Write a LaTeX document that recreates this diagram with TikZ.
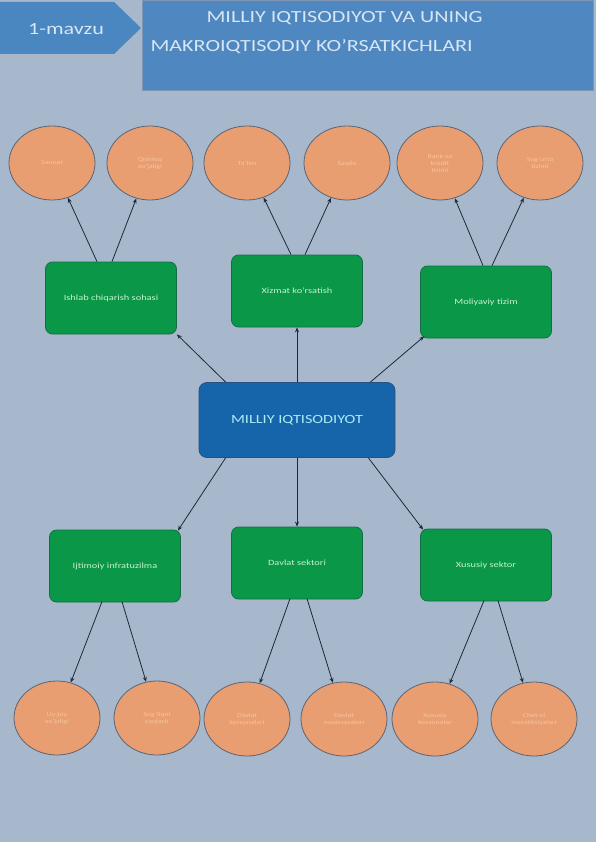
\documentclass[tikz,border=0pt]{standalone}
\usepackage{fontspec}
\setmainfont{Carlito}[FakeStretch=1.3]
\usetikzlibrary{shapes.geometric,calc,arrows.meta}
\definecolor{bgc}{RGB}{168,184,204}
\definecolor{titlec}{RGB}{79,135,192}
\definecolor{tagc}{RGB}{74,134,192}
\definecolor{greenc}{RGB}{10,152,72}
\definecolor{greenb}{RGB}{20,110,70}
\definecolor{bluec}{RGB}{22,100,170}
\definecolor{blueb}{RGB}{40,80,130}
\definecolor{orangec}{RGB}{232,158,112}
\definecolor{orangeb}{RGB}{90,100,120}
\definecolor{ltxt}{RGB}{214,230,244}
\definecolor{gtxt}{RGB}{200,240,210}
\definecolor{otxt}{RGB}{246,196,160}
\definecolor{linec}{RGB}{30,40,55}
\tikzset{
  gbox/.style={draw=greenb, line width=0.8pt, fill=greenc, rounded corners=7pt,
    minimum width=131pt, minimum height=72pt, inner sep=2pt, font=\fontsize{8}{9}\selectfont, text=gtxt, align=center},
  obub/.style={ellipse, draw=orangeb, line width=0.8pt, fill=orangec,
    minimum width=86pt, minimum height=74pt, inner sep=0pt, font=\fontsize{6}{7}\selectfont, text=otxt, align=center},
  conn/.style={draw=linec, line width=0.8pt, -{Stealth[length=5pt,width=4pt]}}
}
\begin{document}
\begin{tikzpicture}[x=1pt,y=-1pt]
\useasboundingbox (0,0) rectangle (596,842);
\fill[bgc] (0,0) rectangle (596,842);
% title
\node[draw=blueb!60, line width=0.6pt, fill=titlec, minimum width=451pt, minimum height=90pt, anchor=north west, inner sep=0pt] (title) at (142,0) {};
\node[text=ltxt, font=\fontsize{17}{19}\selectfont, anchor=west] (t1) at (203,18) {MILLIY IQTISODIYOT VA UNING};
\node[text=ltxt, font=\fontsize{17}{19}\selectfont, anchor=west] (t2) at (147,47) {MAKROIQTISODIY KO’RSATKICHLARI};
\fill[tagc] (0,2) -- (114,2) -- (141,28) -- (114,54) -- (0,54) -- cycle;
\node[text=ltxt, font=\fontsize{17}{19}\selectfont] (tag) at (66,29) {1-mavzu};
% center
\node[draw=blueb, line width=0.8pt, fill=bluec, rounded corners=8pt, minimum width=196pt, minimum height=75pt, text=ltxt!80!cyan, font=\fontsize{12.5}{14}\selectfont] (m) at (297,420) {MILLIY IQTISODIYOT};
% green boxes
\node[gbox] (b1) at (111,298) {Ishlab chiqarish sohasi};
\node[gbox] (b2) at (297,291) {Xizmat ko’rsatish};
\node[gbox] (b3) at (486,302) {Moliyaviy tizim};
\node[gbox] (b4) at (115,566) {Ijtimoiy infratuzilma};
\node[gbox] (b5) at (297,563) {Davlat sektori};
\node[gbox] (b6) at (486,565) {Xususiy sektor};
% top circles
\node[obub] (c1) at (52,163) {Sanoat};
\node[obub] (c2) at (150,163) {Qishloq\\xo’jaligi};
\node[obub] (c3) at (247,163) {Ta’lim};
\node[obub] (c4) at (347,163) {Savdo};
\node[obub] (c5) at (440,163) {Bank va\\kredit\\tizimi};
\node[obub] (c6) at (540,163) {Sug’urta\\tizimi};
% bottom circles
\node[obub] (d1) at (57,718) {Uy-joy\\xo’jaligi};
\node[obub] (d2) at (157,718) {Sog’liqni\\saqlash};
\node[obub] (d3) at (247,719) {Davlat\\korxonalari};
\node[obub] (d4) at (344,719) {Davlat\\muassasalari};
\node[obub] (d5) at (435,719) {Xususiy\\korxonalar};
\node[obub] (d6) at (534,719) {Chet el\\investitsiyalari};
% center to boxes
\draw[conn] ($(m.north west)+(27,0)$) -- (b1.south east);
\draw[conn] (m.north) -- (b2.south);
\draw[conn] ($(m.north east)+(-25,0)$) -- ($(b3.south west)+(4,-2)$);
\draw[conn] ($(m.south west)+(27,0)$) -- ($(b4.north east)+(-3,1)$);
\draw[conn] (m.south) -- (b5.north);
\draw[conn] ($(m.south east)+(-27,0)$) -- ($(b6.north west)+(3,1)$);
% boxes to circles
\draw[conn] ($(b1.north)+(-14,0)$) -- (c1);
\draw[conn] ($(b1.north)+(1,0)$) -- (c2);
\draw[conn] ($(b2.north)+(-6,0)$) -- (c3);
\draw[conn] ($(b2.north)+(8,0)$) -- (c4);
\draw[conn] ($(b3.north)+(-3,0)$) -- (c5);
\draw[conn] ($(b3.north)+(6,0)$) -- (c6);
\draw[conn] ($(b4.north)+(-13,72)$) -- (d1);
\draw[conn] ($(b4.north)+(7,72)$) -- (d2);
\draw[conn] ($(b5.north)+(-7,72)$) -- (d3);
\draw[conn] ($(b5.north)+(10,72)$) -- (d4);
\draw[conn] ($(b6.north)+(-2,72)$) -- (d5);
\draw[conn] ($(b6.north)+(12,72)$) -- (d6);
\end{tikzpicture}
\end{document}
